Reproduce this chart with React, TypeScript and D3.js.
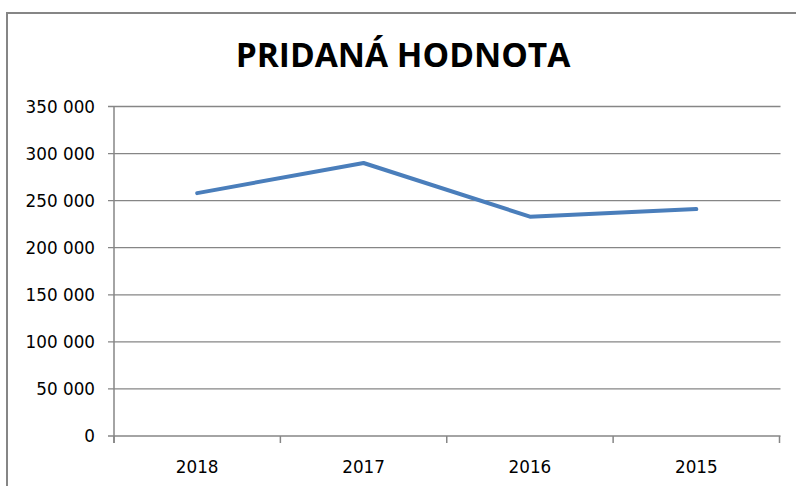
import React from "react";
import * as d3 from "d3";

const categories = ["2018", "2017", "2016", "2015"];
const values = [258000, 290000, 233000, 241000];
const yTicks = [0, 50000, 100000, 150000, 200000, 250000, 300000, 350000];
const title = "PRIDANÁ HODNOTA";

const W = 796;
const H = 486;
const left = 114;
const right = 779.5;
const top = 106.5;
const bottom = 436;

export default function App() {
  const x = d3.scaleBand<string>().domain(categories).range([left, right]);
  const y = d3.scaleLinear().domain([0, 350000]).range([bottom, top]);
  const line = d3
    .line<number>()
    .x((_, i) => (x(categories[i]) as number) + x.bandwidth() / 2)
    .y((d) => y(d));
  const fmt = (v: number) => d3.format(",")(v).replace(/,/g, " ");
  const gridColor = "#868686";
  const tickXs = [...categories.map((c) => x(c) as number), right];

  return (
    <div style={{ position: "fixed", left: 0, top: 0 }}>
      <svg width={W} height={H} style={{ display: "block", background: "#fff" }}>
        <rect x={7} y={13} width={W} height={H} fill="#fff" stroke={gridColor} strokeWidth={2} />
        <text
          x={403}
          y={67}
          textAnchor="middle"
          fontFamily="'Open Sans', sans-serif"
          fontWeight="bold"
          fontSize={33.5}
          fill="#000"
        >
          {title}
        </text>
        {yTicks.map((t) => (
          <g key={t}>
            <line x1={108} x2={right + 1} y1={y(t)} y2={y(t)} stroke={gridColor} strokeWidth={1.3} />
            <text
              x={95}
              y={y(t)}
              dy="0.36em"
              textAnchor="end"
              fontFamily="'DejaVu Sans', sans-serif"
              fontSize={16.8}
              fill="#000"
            >
              {fmt(t)}
            </text>
          </g>
        ))}
        <line x1={left} x2={left} y1={top} y2={bottom + 7} stroke={gridColor} strokeWidth={1.5} />
        {tickXs.map((tx, i) => (
          <line key={i} x1={tx} x2={tx} y1={bottom} y2={bottom + 7} stroke={gridColor} strokeWidth={1.5} />
        ))}
        {categories.map((c) => (
          <text
            key={c}
            x={(x(c) as number) + x.bandwidth() / 2}
            y={473}
            textAnchor="middle"
            fontFamily="'DejaVu Sans', sans-serif"
            fontSize={16.8}
            fill="#000"
          >
            {c}
          </text>
        ))}
        <path
          d={line(values) || ""}
          fill="none"
          stroke="#4a7ebb"
          strokeWidth={4}
          strokeLinejoin="round"
          strokeLinecap="round"
        />
      </svg>
    </div>
  );
}
